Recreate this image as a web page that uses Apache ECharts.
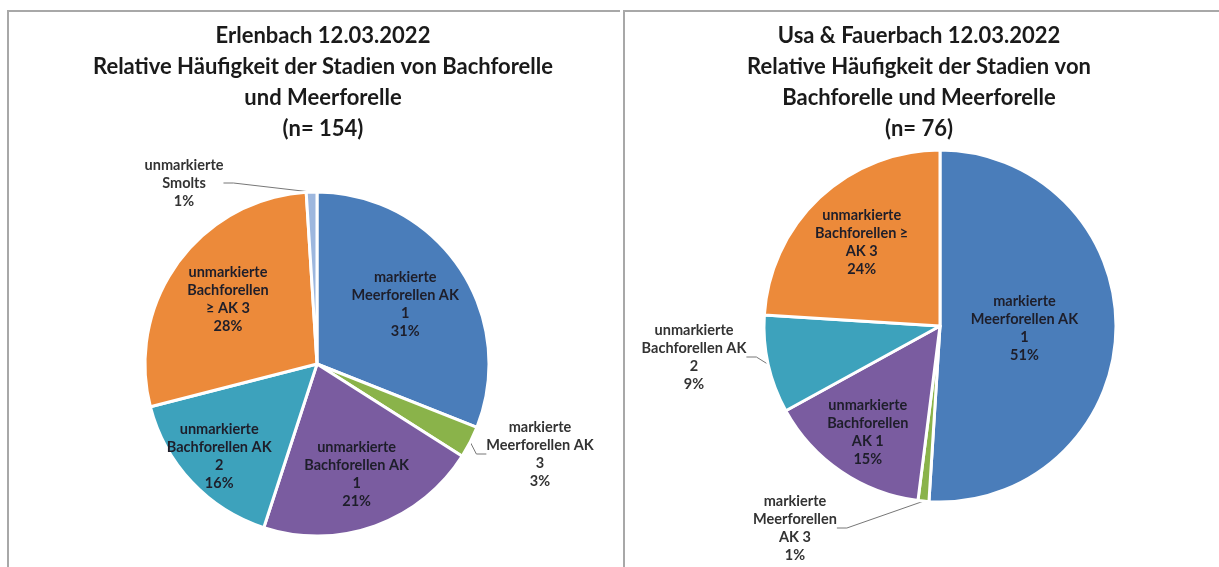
<!DOCTYPE html>
<html>
<head>
<meta charset="utf-8">
<script src="https://cdn.jsdelivr.net/npm/echarts@6/dist/echarts.min.js"></script>
<style>
  html, body { margin: 0; padding: 0; background: #fff; }
  #main { width: 1219px; height: 567px; }
</style>
</head>
<body>
<div id="main"></div>
<script>
// Daten (Prozentwerte)
var leftTitle = 'Erlenbach 12.03.2022\nRelative Häufigkeit der Stadien von Bachforelle\nund Meerforelle\n(n= 154)';
var leftNames = [
  'markierte\nMeerforellen AK\n1',
  'markierte\nMeerforellen AK\n3',
  'unmarkierte\nBachforellen AK\n1',
  'unmarkierte\nBachforellen AK\n2',
  'unmarkierte\nBachforellen\n≥ AK 3',
  'unmarkierte\nSmolts'
];
var leftValues = [31, 3, 21, 16, 28, 1];

var rightTitle = 'Usa & Fauerbach 12.03.2022\nRelative Häufigkeit der Stadien von\nBachforelle und Meerforelle\n(n= 76)';
var rightNames = [
  'markierte\nMeerforellen AK\n1',
  'markierte\nMeerforellen\nAK 3',
  'unmarkierte\nBachforellen\nAK 1',
  'unmarkierte\nBachforellen AK\n2',
  'unmarkierte\nBachforellen ≥\nAK 3'
];
var rightValues = [51, 1, 15, 9, 24];

var colors = ['#4a7dba', '#8ab34a', '#7a5ca0', '#3da2bc', '#ec8a3a', '#9db7de'];

// Layout / Stil
var pies = [
  { center: [317, 364], r: 172, labelPos: [0.62, null, 0.68, 0.78, 0.64, null],
    outside: { 1: [540, 454], 5: [184, 183] } },
  { center: [940, 326], r: 176, labelPos: [0.48, null, 0.73, null, 0.65],
    outside: { 1: [795, 528], 3: [694, 357] } }
];

function buildData(names, values, cfg) {
  return names.map(function (n, i) {
    var item = { name: n, value: values[i], itemStyle: { color: colors[i] } };
    if (cfg.outside[i]) {
      item.label = { position: 'outside', color: '#333' };
      item.labelLine = { show: true };
    }
    return item;
  });
}

function makeSeries(names, values, idx) {
  var cfg = pies[idx];
  return {
    type: 'pie',
    center: cfg.center,
    radius: cfg.r,
    startAngle: 90,
    clockwise: true,
    avoidLabelOverlap: false,
    silent: true,
    itemStyle: { borderColor: '#fff', borderWidth: 3 },
    label: {
      position: 'inside',
      formatter: '{b}\n{c}%',
      fontFamily: 'Lato',
      fontWeight: 'bold',
      fontSize: 14.5,
      lineHeight: 18,
      color: '#1e1e2a',
      align: 'center'
    },
    labelLine: { show: false, length: 10, length2: 10, lineStyle: { color: '#777', width: 1 } },
    labelLayout: function (p) {
      var o = cfg.outside[p.dataIndex];
      if (o) {
        return { x: o[0], y: o[1], align: 'center', verticalAlign: 'middle' };
      }
      var lr = p.labelRect;
      var lx = lr.x + lr.width / 2 - cfg.center[0];
      var ly = lr.y + lr.height / 2 - cfg.center[1];
      var d = Math.sqrt(lx * lx + ly * ly) || 1;
      var target = cfg.labelPos[p.dataIndex] * cfg.r;
      return { dx: lx / d * target - lx, dy: ly / d * target - ly };
    },
    data: buildData(names, values, cfg)
  };
}

var titleStyle = { fontFamily: 'Lato', fontWeight: 'bold', fontSize: 22, lineHeight: 31, color: '#1a1a1a' };

var myChart = echarts.init(document.getElementById('main'));
myChart.setOption({
  backgroundColor: '#fff',
  animation: false,
  title: [
    { text: leftTitle, left: 318, top: 15, textAlign: 'center', textStyle: titleStyle },
    { text: rightTitle, left: 914, top: 15, textAlign: 'center', textStyle: titleStyle }
  ],
  graphic: [
    { type: 'polyline', shape: { points: [[8, 600], [8, 11], [620, 11]] },
      style: { stroke: '#a8a8a8', lineWidth: 2, fill: null } },
    { type: 'polyline', shape: { points: [[624, 600], [624, 11], [1230, 11]] },
      style: { stroke: '#a8a8a8', lineWidth: 2, fill: null } }
  ],
  series: [
    makeSeries(leftNames, leftValues, 0),
    makeSeries(rightNames, rightValues, 1)
  ]
});
</script>
</body>
</html>
